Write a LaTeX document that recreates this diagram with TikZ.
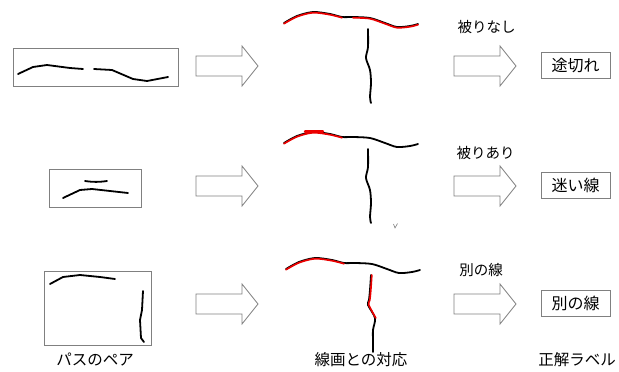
\documentclass[tikz,border=0pt]{standalone}
\usepackage{fontspec}
\setmainfont{Noto Sans CJK JP}
\definecolor{frame}{RGB}{128,128,128}
\definecolor{hit}{RGB}{235,0,0}
\begin{document}
\begin{tikzpicture}[x=1pt,y=-1pt,
  pairbox/.style={draw=frame,line width=0.8pt,inner sep=0pt},
  labelbox/.style={draw=frame,line width=0.8pt,minimum width=69pt,minimum height=26pt,inner sep=0pt,font=\fontsize{16}{16}\selectfont},
  caption/.style={inner sep=0pt,font=\fontsize{14.5}{14.5}\selectfont},
  footer/.style={inner sep=0pt,font=\fontsize{15.5}{15.5}\selectfont},
  sketch/.style={line width=1.8pt,line cap=round,line join=round},
  redpart/.style={hit,line width=1.7pt,line cap=round,line join=round,yshift=-0.7pt},
  bigarrow/.pic={\draw[frame,line width=0.8pt,fill=white]
      (0,-10) -- (46,-10) -- (46,-20) -- (62,0) -- (46,20) -- (46,10) -- (0,10) -- cycle;}]
\useasboundingbox (0,0) rectangle (619,372);

% path pairs
\node[pairbox,minimum width=165pt,minimum height=38pt] (p1) at (95.5,67) {};
\node[pairbox,minimum width=92pt,minimum height=38pt] (p2) at (95,188) {};
\node[pairbox,minimum width=107pt,minimum height=74pt] (p3) at (97.5,308) {};

\draw[sketch] (18,74) -- (33,67) -- (47,65) -- (70,68) -- (83,69);
\draw[sketch] (94,69) -- (112,70) -- (133,79) -- (147,81) -- (168,77);

\draw[sketch] (85,181) to[bend right=8] (107,181);
\draw[sketch] (63,198) -- (80,190) -- (92,189) -- (110,191) -- (128,193);

\draw[sketch] (50,284) -- (63,277) -- (80,275) -- (100,277) -- (115,279);
\draw[sketch] (143,291) -- (142,310) -- (140,320) -- (141,338) -- (144,342);

% arrows
\pic at (196,66) {bigarrow};
\pic at (196,186) {bigarrow};
\pic at (196,304) {bigarrow};
\pic at (454,66) {bigarrow};
\pic at (454,186) {bigarrow};
\pic at (454,304) {bigarrow};

% line drawing, row 1
\draw[sketch] plot[smooth] coordinates {(284,23) (297,16) (313,12) (330,14) (342,17) (353,17) (370,18) (385,23) (397,27) (410,26) (418,24)};
\draw[sketch] plot[smooth] coordinates {(368,29) (368,47) (366,58) (370,70) (371,83) (370,97) (371,103)};
\draw[redpart] plot[smooth] coordinates {(284,23) (297,16) (313,12) (330,14) (342,17)};
\draw[redpart] plot[smooth] coordinates {(353,17) (370,18) (385,23) (397,27) (410,26) (418,24)};

% line drawing, row 2
\draw[sketch] plot[smooth] coordinates {(284,143) (297,136) (313,132) (330,134) (342,137) (353,137) (370,138) (385,143) (397,147) (410,146) (418,144)};
\draw[sketch] plot[smooth] coordinates {(368,149) (368,167) (366,178) (370,190) (371,203) (370,217) (371,223)};
\draw[redpart] plot[smooth] coordinates {(284,143) (297,136) (313,132) (330,134) (342,137)};
\draw[hit,line width=2.4pt,line cap=round] (305,131.5) -- (323,131.5);
\draw[frame,line width=0.6pt] (393.5,224) -- (395,228) -- (397.5,223.5);

% line drawing, row 3
\draw[sketch] plot[smooth] coordinates {(286,269) (299,262) (315,258) (332,260) (344,263) (355,263) (372,264) (387,269) (399,273) (412,272) (420,270)};
\draw[sketch] plot[smooth] coordinates {(371,275) (370,290) (369,300) (368,305) (375,318) (373,330) (373,342) (373,352)};
\draw[redpart] plot[smooth] coordinates {(286,269) (299,262) (315,258) (332,260) (344,263)};
\draw[hit,line width=1.7pt,line cap=round,line join=round,xshift=0.8pt] plot[smooth] coordinates {(371,275) (370,290) (369,300) (368,305) (375,318)};

% overlap captions
\node[caption] (c1) at (486.5,27) {被りなし};
\node[caption] (c2) at (485.5,153) {被りあり};
\node[caption] (c3) at (481,270) {別の線};

% answer labels
\node[labelbox] (l1) at (575.5,65) {途切れ};
\node[labelbox] (l2) at (575.5,185) {迷い線};
\node[labelbox] (l3) at (575.5,303.5) {別の線};

% column headings
\node[footer] (f1) at (95,360) {パスのペア};
\node[footer] (f2) at (361,360) {線画との対応};
\node[footer] (f3) at (577,360) {正解ラベル};
\end{tikzpicture}
\end{document}
